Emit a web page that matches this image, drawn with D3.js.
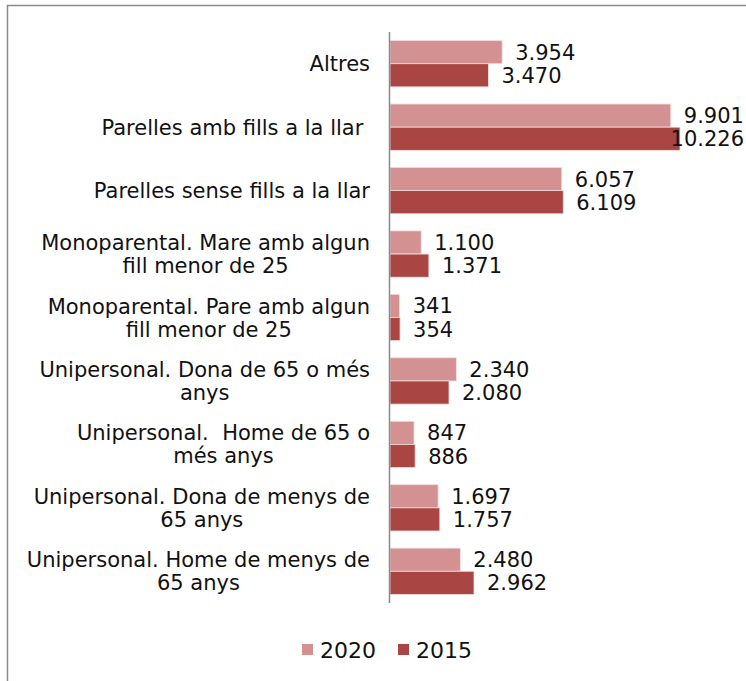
<!DOCTYPE html>
<html>
<head>
<meta charset="utf-8">
<script src="https://cdn.jsdelivr.net/npm/d3@7"></script>
<style>
  body { margin: 0; background: #fff; }
  svg text { font-family: "DejaVu Sans", Verdana, sans-serif; fill: #111; white-space: pre; }
</style>
</head>
<body>
<svg id="chart" width="746" height="681"></svg>
<script>
// categories, each as the lines of its wrapped label
const categories = [
    ["Altres"],
    ["Parelles amb fills a la llar "],
    ["Parelles sense fills a la llar"],
    ["Monoparental. Mare amb algun", "fill menor de 25"],
    ["Monoparental. Pare amb algun", "fill menor de 25"],
    ["Unipersonal. Dona de 65 o més", "anys"],
    ["Unipersonal.  Home de 65 o", "més anys"],
    ["Unipersonal. Dona de menys de", "65 anys"],
    ["Unipersonal. Home de menys de", "65 anys"]
];
const seriesNames = ["2020", "2015"];
const values2020 = [3954, 9901, 6057, 1100, 341, 2340, 847, 1697, 2480];
const values2015 = [3470, 10226, 6109, 1371, 354, 2080, 886, 1757, 2962];
const colors = ["#d39191", "#a94644"];

const svg = d3.select('#chart');

// outer frame of the chart area
svg.append('rect')
    .attr('x', 7.5).attr('y', 5.5)
    .attr('width', 760).attr('height', 700)
    .attr('fill', 'none')
    .attr('stroke', '#8a8a8a')
    .attr('stroke-width', 1.5);

const x = d3.scaleLinear().domain([0, 10226]).range([390, 680]);
const y = d3.scaleBand().domain(d3.range(categories.length)).range([32, 603]).paddingInner(0.27).paddingOuter(0.135);
const y2 = d3.scaleBand().domain([0, 1]).range([0, y.bandwidth()]);

const rows = categories.map((c, i) => ({i: i, label: c, vals: [values2020[i], values2015[i]]}));

const groups = svg.selectAll('g.cat')
    .data(rows)
    .enter()
    .append('g')
    .attr('class', 'cat')
    .attr('transform', d => 'translate(0,' + y(d.i) + ')');

groups.selectAll('rect')
    .data(d => d.vals)
    .enter()
    .append('rect')
    .attr('x', x(0))
    .attr('y', (v, j) => y2(j))
    .attr('width', v => x(v) - x(0))
    .attr('height', y2.bandwidth())
    .attr('fill', (v, j) => colors[j])
    .attr('stroke', '#f3dede')
    .attr('stroke-width', 0.8);

// value labels, pulled back left when they would run off the edge
groups.selectAll('text.val')
    .data(d => d.vals)
    .enter()
    .append('text')
    .attr('class', 'val')
    .attr('y', (v, j) => y2(j) + y2.bandwidth() / 2)
    .attr('dy', '0.36em')
    .attr('font-size', 21)
    .text(v => d3.format(',')(v).replace(/,/g, '.'))
    .attr('x', function(v) {
        const w = this.getComputedTextLength();
        return Math.min(x(v) + 13, 744 - w);
    });

// category labels: lines centred with each other, block right-aligned to the axis
const labelRight = 370;
const lineH = 23;
rows.forEach(d => {
    const cy = y(d.i) + y.bandwidth() / 2;
    const t = svg.append('text')
        .attr('font-size', 21)
        .attr('text-anchor', 'middle');
    const n = d.label.length;
    d.label.forEach((line, k) => {
        t.append('tspan')
            .attr('y', cy + (k - (n - 1) / 2) * lineH)
            .attr('dy', '0.36em')
            .text(line);
    });
    const w = d3.max(t.selectAll('tspan').nodes(), nd => nd.getComputedTextLength());
    t.selectAll('tspan').attr('x', labelRight - w / 2);
});

// vertical axis line
svg.append('line')
    .attr('x1', 389.5).attr('x2', 389.5)
    .attr('y1', y.range()[0]).attr('y2', y.range()[1])
    .attr('stroke', '#8a8a8a')
    .attr('stroke-width', 1.5);

// legend
const legend = svg.append('g').attr('transform', 'translate(302,650)');
const legendX = [0, 96];
seriesNames.forEach((s, j) => {
    legend.append('rect')
        .attr('x', legendX[j]).attr('y', -6)
        .attr('width', 11).attr('height', 11)
        .attr('fill', colors[j]);
    legend.append('text')
        .attr('x', legendX[j] + 18).attr('y', 0)
        .attr('dy', '0.36em')
        .attr('font-size', 22)
        .text(s);
});
</script>
</body>
</html>
